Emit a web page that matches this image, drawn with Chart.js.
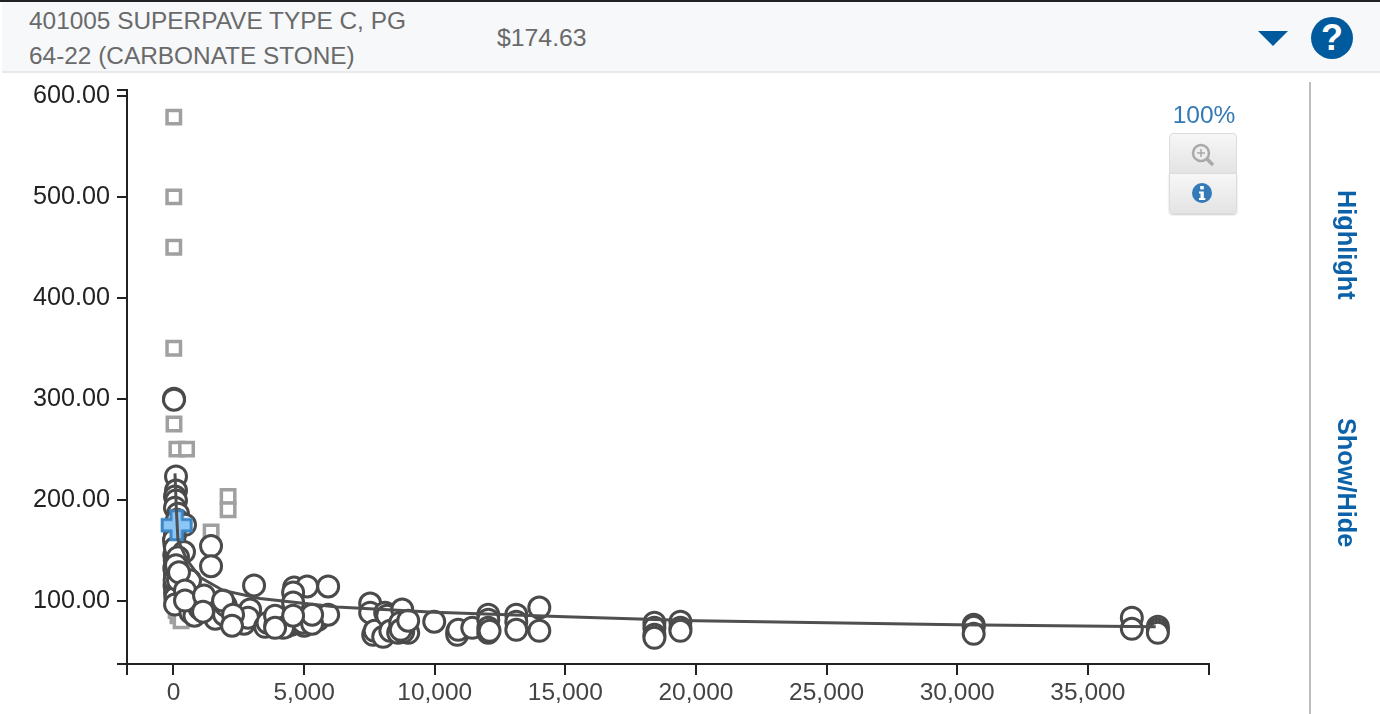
<!DOCTYPE html>
<html><head><meta charset="utf-8">
<style>
html,body{margin:0;padding:0;background:#fff;width:1380px;height:714px;overflow:hidden;font-family:"Liberation Sans",Arial,sans-serif}
#hdr{position:absolute;left:2px;top:0;width:1378px;height:71px;background:#f6f8fa;border-bottom:2px solid #e9e9e9}
#topline{position:absolute;left:0;top:0;width:1380px;height:2px;background:#222}
.t{position:absolute;color:#6a6a6a;font-size:24.4px;line-height:30px;white-space:nowrap}
#tri{position:absolute;left:1258px;top:31px;width:0;height:0;border-left:15px solid transparent;border-right:15px solid transparent;border-top:15px solid #005a9e}
#help{position:absolute;left:1311px;top:17px;width:42px;height:42px;border-radius:50%;background:#005a9e;color:#fff;font-weight:bold;font-size:36px;line-height:42px;text-align:center}
#pct{position:absolute;left:1164px;top:100px;width:80px;text-align:center;color:#337ab7;font-size:24.5px;line-height:30px}
.btn{position:absolute;left:1169px;width:66px;height:39px;border:1px solid #dcdcdc;background:linear-gradient(#f7f7f7,#e3e3e3)}
#b1{top:133px;border-radius:4px 4px 0 0}
#b2{top:173px;border-radius:0 0 4px 4px;box-shadow:0 1px 2px #ccc}
#sep{position:absolute;left:1309px;top:82px;width:2px;height:632px;background:#bdbdbd}
.v{position:absolute;writing-mode:vertical-rl;color:#0b62a8;font-weight:bold;font-size:25.3px;line-height:30px;white-space:nowrap;left:1332px}
canvas{position:absolute;left:0;top:0}
</style>
</head><body>
<canvas id="c" width="1380" height="714"></canvas>
<div id="hdr"></div><div id="topline"></div>
<div class="t" style="left:29px;top:6px">401005 SUPERPAVE TYPE C, PG</div>
<div class="t" style="left:29px;top:41px">64-22 (CARBONATE STONE)</div>
<div class="t" style="left:497px;top:23px;font-size:24.8px">$174.63</div>
<div id="tri"></div><div id="help">?</div>
<div id="pct">100%</div>
<div class="btn" id="b1"><svg width="65" height="39" viewBox="0 0 65 39"><circle cx="31" cy="19" r="8" fill="#eee" stroke="#a9a9a9" stroke-width="2.5"/><path d="M27 19h8M31 15v8" stroke="#a9a9a9" stroke-width="1.5"/><path d="M37 25l6 6" stroke="#a9a9a9" stroke-width="3.5"/></svg></div>
<div class="btn" id="b2"><svg width="65" height="39" viewBox="0 0 65 39"><circle cx="32" cy="19" r="10" fill="#337ab7"/><rect x="30.2" y="12" width="3.6" height="3.4" fill="#fff"/><path d="M29 17.5h4.8v6.5h1.5v2h-6.3v-2h1.5v-4.5h-1.5z" fill="#fff"/></svg></div>
<div id="sep"></div>
<div class="v" style="top:190px">Highlight</div>
<div class="v" style="top:418px">Show/Hide</div>
<script src="https://cdn.jsdelivr.net/npm/chart.js@4/dist/chart.umd.min.js"></script>
<script>
const xTickValues=[0,5000,10000,15000,20000,25000,30000,35000];
const yTickValues=[100,200,300,400,500,600];
const xMin=-1780,xMax=39640,yMin=37.1,yMax=605.9;

const circleX=[19,19,57,40,30,57,40,60,30,50,45,70,60,96,96,57,96,57,172,134,441,57,19,57,402,172,96,172,
632,824,1207,650,800,1000,1600,1935,2000,2500,2700,1437,1437,211,441,441,1169,1130,1897,
2931,2854,3506,3600,3900,4300,4500,4700,5000,3889,4195,2280,2241,3084,
4617,5115,5920,4579,4579,4962,5536,5920,5307,5307,3889,4579,
7529,7529,7644,7700,8103,8180,8027,8300,8600,8755,8985,8793,8678,8700,8985,9981,10862,10862,10900,11437,
12050,12050,12050,12050,12100,13123,13123,13123,14004,14004,
18410,18410,18410,18410,19406,19406,19406,30632,30632,30632,36686,36686,37682,37682,37682];
const circleY=[300,299,165,155,145,125,115,108,132,140,120,103,96,223,209,203,199,192,186,180,175,170,160,152,148,143,135,120,
120,102,95,88,85,92,82,86,95,80,77,154,134,128,110,100,105,89,100,
91,83,74,78,76,74,76,78,75,85,73,86,75,115,
113,114,114,108,98,78,81,86,77,86,73,85,
97,88,66,70,88,85,64,70,68,91,68,69,78,71,80,79,69,66,71,73,
86,81,73,68,70,86,79,71,93,70,
78,73,66,63,79,73,70,76,74,67,83,72,74,71,68];

const squareX=[10,10,10,10,19,130,500,2090,2090,1440,20,60,100,170,290];
const squareY=[579,500,450,350,275,250,250,203,190,168,118,100,90,85,80];

const trendX=[57,110,170,520,1015,1900,3310,6260,10000,15000,20000,30000,37600];
const trendY=[226,190,160,140,123,110,102,93.5,88.5,84,80,76,74];

const currentX=[120];
const currentY=[174.63];

function zip(a,b){return a.map((v,i)=>({x:v,y:b[i]}));}

const plus=document.createElement('canvas');plus.width=36;plus.height=36;
(function(){const g=plus.getContext('2d');const a=11.5,b=29,o=3.5;
g.beginPath();const s=(b-a)/2;
g.moveTo(o+s,o);g.lineTo(o+s+a,o);g.lineTo(o+s+a,o+s);g.lineTo(o+b,o+s);g.lineTo(o+b,o+s+a);g.lineTo(o+s+a,o+s+a);g.lineTo(o+s+a,o+b);g.lineTo(o+s,o+b);g.lineTo(o+s,o+s+a);g.lineTo(o,o+s+a);g.lineTo(o,o+s);g.lineTo(o+s,o+s);g.closePath();
g.fillStyle='#8cc6f7';g.fill();g.lineWidth=3;g.strokeStyle='#3d86c6';g.stroke();})();

new Chart(document.getElementById('c'),{
 type:'scatter',
 data:{datasets:[
  {label:'Trend',type:'line',data:zip(trendX,trendY),borderColor:'#4f4f4f',borderWidth:3,pointRadius:0,fill:false,tension:0},
  {label:'Current',data:zip(currentX,currentY),pointStyle:plus,pointRadius:18},
  {label:'Included',data:zip(circleX,circleY),pointStyle:'circle',pointRadius:10.5,borderWidth:3,borderColor:'#4a4a4a',backgroundColor:'#fff'},
  {label:'Excluded',data:zip(squareX,squareY),pointStyle:'rect',pointRadius:9.5,borderWidth:3.5,borderColor:'#a0a0a0',backgroundColor:'#fff'}
 ]},
 options:{
  responsive:false,animation:false,
  layout:{padding:{top:90,right:171,left:0,bottom:0}},
  plugins:{legend:{display:false},tooltip:{enabled:false}},
  scales:{
   x:{type:'linear',min:xMin,max:xMax,
    afterFit(s){s.height=50;},
    afterBuildTicks(s){s.ticks=[xMin,...xTickValues,xMax].map(v=>({value:v}));},
    border:{color:'#222',width:2},
    grid:{drawOnChartArea:false,drawTicks:true,tickLength:11,color:'#222',lineWidth:2},
    ticks:{autoSkip:false,maxRotation:0,padding:4,color:'#444',font:{family:'"Liberation Sans"',size:24.5},
     callback(v){return xTickValues.includes(v)?v.toLocaleString('en-US'):'';}}},
   y:{type:'linear',min:yMin,max:yMax,
    afterFit(s){s.width=127;},
    afterBuildTicks(s){s.ticks=[yMin,...yTickValues,yMax].map(v=>({value:v}));},
    border:{color:'#222',width:2},
    grid:{drawOnChartArea:false,drawTicks:true,tickLength:10,color:'#222',lineWidth:2},
    ticks:{autoSkip:false,padding:7,labelOffset:0.5,color:'#222',font:{family:'"Liberation Sans"',size:25.2},
     callback(v){return yTickValues.includes(v)?v.toFixed(2):'';}}}
  }
 }
});
</script>
</body></html>
